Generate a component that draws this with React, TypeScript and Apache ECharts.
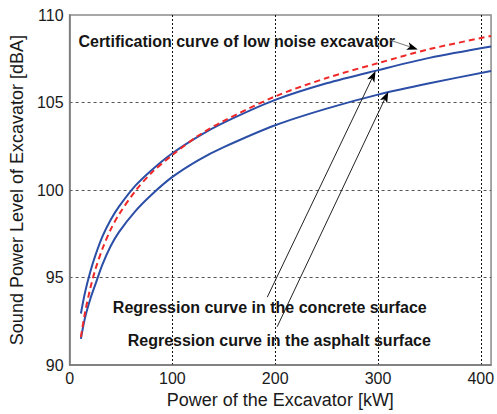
import React, { useEffect, useRef } from "react";
import * as echarts from "echarts";

// Power of the excavator [kW]
const powerKW = [11, 15, 20, 25, 32, 40, 48, 64, 80, 100, 125, 150, 200, 250, 300, 350, 410];
// Certification curve of low noise excavator [dBA]
const certificationDBA = [91.6, 93.0, 94.35, 95.45, 96.65, 97.75, 98.6, 99.95, 101.0, 102.0, 103.1, 103.95, 105.35, 106.4, 107.25, 108.05, 108.8];
// Regression curve in the concrete surface [dBA]
const concreteDBA = [92.95, 94.15, 95.3, 96.25, 97.35, 98.3, 99.05, 100.25, 101.15, 102.1, 103.05, 103.85, 105.15, 106.1, 106.85, 107.55, 108.2];
// Regression curve in the asphalt surface [dBA]
const asphaltDBA = [91.5, 92.7, 93.75, 94.6, 95.75, 96.8, 97.6, 98.8, 99.75, 100.75, 101.7, 102.45, 103.7, 104.65, 105.45, 106.1, 106.8];

const xTicks = [0, 100, 200, 300, 400];

// annotations: text anchor (left/middle) and arrow tail -> tip, in data units
const annotations = [
  { text: "Certification curve of low noise excavator", at: [8.6, 108.48], tail: [312, 108.56], tip: [338.8, 108.03], lineColor: "#777777" },
  { text: "Regression curve in the concrete surface", at: [42.1, 93.3], tail: [192.3, 93.88], tip: [297.6, 106.8], lineColor: "#222222" },
  { text: "Regression curve in the asphalt surface", at: [56.5, 91.4], tail: [201.9, 92.19], tip: [310, 105.62], lineColor: "#222222" },
];

const FONT = "'Liberation Sans', Arial, Helvetica, sans-serif";

export default function App() {
  const ref = useRef<HTMLDivElement>(null);

  useEffect(() => {
    if (!ref.current) return;
    const chart = echarts.init(ref.current, undefined, { renderer: "svg" });
    const pair = (ys: number[]) => powerKW.map((x, i) => [x, ys[i]]);

    chart.setOption({
      animation: false,
      backgroundColor: "#ffffff",
      grid: {
        left: 64,
        right: 4,
        top: 15,
        bottom: 44,
        show: true,
        borderColor: "#8a8a8a",
        borderWidth: 1.5,
        backgroundColor: "transparent",
      },
      xAxis: {
        type: "value",
        min: 0,
        max: 410,
        interval: 100,
        name: "Power of the Excavator [kW]",
        nameLocation: "middle",
        nameGap: 23,
        nameTextStyle: { fontFamily: FONT, fontSize: 18, color: "#1a1a1a" },
        axisLine: { show: true, lineStyle: { color: "#777777", width: 1.5 } },
        axisTick: { show: false },
        axisLabel: {
          fontFamily: FONT,
          fontSize: 16,
          color: "#1a1a1a",
          margin: 5,
          formatter: (v: number) => (xTicks.includes(v) ? String(v) : ""),
        },
        splitLine: {
          show: true,
          showMinLine: false,
          showMaxLine: false,
          lineStyle: { color: "#111111", type: [2, 2], width: 1 },
        },
      },
      yAxis: {
        type: "value",
        min: 90,
        max: 110,
        interval: 5,
        name: "Sound Power Level of Excavator [dBA]",
        nameLocation: "middle",
        nameGap: 39,
        nameTextStyle: { fontFamily: FONT, fontSize: 18, color: "#1a1a1a" },
        axisLine: { show: true, lineStyle: { color: "#777777", width: 1.5 } },
        axisTick: { show: false },
        axisLabel: { fontFamily: FONT, fontSize: 16, color: "#1a1a1a", margin: 6 },
        splitLine: {
          show: true,
          showMinLine: false,
          showMaxLine: false,
          lineStyle: { color: "#555555", type: [3, 3], width: 1 },
        },
      },
      series: [
        {
          name: "Regression curve in the asphalt surface",
          type: "line",
          data: pair(asphaltDBA),
          smooth: 0.3,
          showSymbol: false,
          lineStyle: { color: "#2b4ea6", width: 2 },
        },
        {
          name: "Regression curve in the concrete surface",
          type: "line",
          data: pair(concreteDBA),
          smooth: 0.3,
          showSymbol: false,
          lineStyle: { color: "#2b4ea6", width: 2 },
        },
        {
          name: "Certification curve of low noise excavator",
          type: "line",
          data: pair(certificationDBA),
          smooth: 0.3,
          showSymbol: false,
          z: 3,
          lineStyle: { color: "#f02828", width: 2, type: [6, 4] },
        },
      ],
    });

    const px = (p: number[]) => chart.convertToPixel({ gridIndex: 0 }, p) as number[];
    const graphics: any[] = [];
    annotations.forEach((a) => {
      const at = px(a.at);
      const tail = px(a.tail);
      const tip = px(a.tip);
      const dx = tip[0] - tail[0];
      const dy = tip[1] - tail[1];
      const len = Math.hypot(dx, dy);
      const ux = dx / len;
      const uy = dy / len;
      const nx = -uy;
      const ny = ux;
      const headLen = 11;
      const headW = 4;
      const base = [tip[0] - ux * headLen, tip[1] - uy * headLen];
      const notch = [tip[0] - ux * headLen * 0.75, tip[1] - uy * headLen * 0.75];
      graphics.push({
        type: "text",
        x: at[0],
        y: at[1],
        silent: true,
        style: {
          text: a.text,
          font: `bold 16px ${FONT}`,
          fill: "#151515",
          align: "left",
          verticalAlign: "middle",
        },
        z: 10,
      });
      graphics.push({
        type: "line",
        silent: true,
        shape: { x1: tail[0], y1: tail[1], x2: notch[0], y2: notch[1] },
        style: { stroke: a.lineColor, lineWidth: 1 },
        z: 10,
      });
      graphics.push({
        type: "polygon",
        silent: true,
        shape: {
          points: [
            [tip[0], tip[1]],
            [base[0] + nx * headW, base[1] + ny * headW],
            [notch[0], notch[1]],
            [base[0] - nx * headW, base[1] - ny * headW],
          ],
        },
        style: { fill: "#000000" },
        z: 10,
      });
    });
    chart.setOption({ graphic: graphics });

    return () => chart.dispose();
  }, []);

  return (
    <div
      ref={ref}
      style={{ position: "absolute", left: 0, top: 0, width: 497, height: 414 }}
    />
  );
}
